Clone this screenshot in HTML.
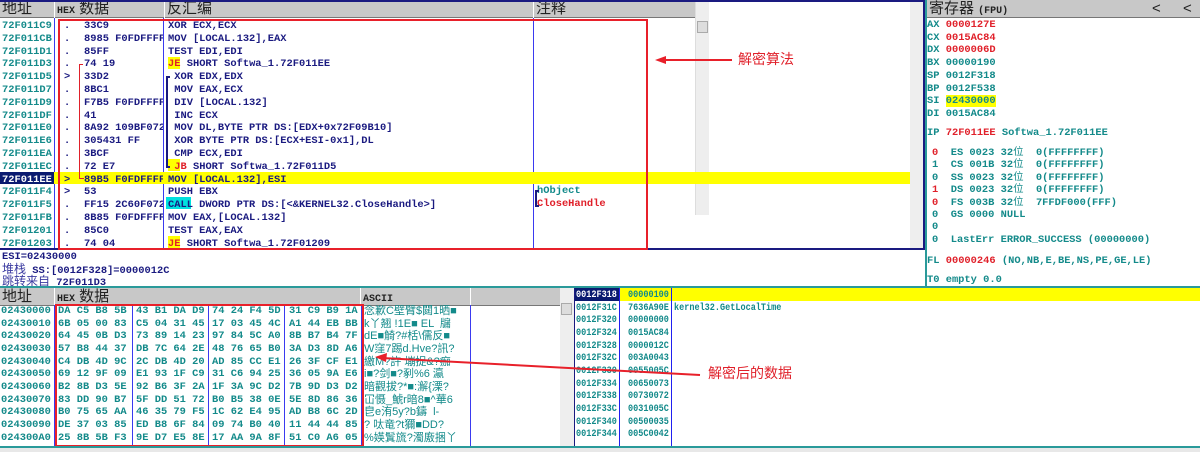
<!DOCTYPE html>
<html><head><meta charset="utf-8">
<style>
*{margin:0;padding:0;box-sizing:border-box}
body{width:1200px;height:452px;overflow:hidden;background:#fff;position:relative;font-family:"Liberation Mono","WenQuanYi Zen Hei",monospace;font-size:10.4px;font-weight:bold;color:#138a8a}
div{position:absolute;white-space:pre}
.h{background:#c8c8c8;border-bottom:1px solid #777;height:18px;font-family:"Liberation Sans","Noto Sans CJK SC",sans-serif;font-weight:normal;font-size:15px;color:#222;line-height:18px;padding-left:2px;overflow:hidden}
.hm{font-family:"Liberation Mono",monospace;font-weight:bold;font-size:10px}
.nv{color:#1a1a80}
.red{color:#e0202a}
.vl{width:1px;background:#3a3af0}
.cj{font-family:"Liberation Sans","Noto Sans CJK SC",sans-serif;font-weight:normal}
.st{transform:scaleX(0.82);transform-origin:0 0}
</style></head><body>

<!-- top header -->
<div class="h" style="left:0;top:0;width:54px">地址</div>
<div class="h" style="left:55px;top:0;width:109px"><span class="hm">HEX</span> 数据</div>
<div class="h" style="left:165px;top:0;width:368px">反汇编</div>
<div class="h" style="left:534px;top:0;width:162px">注释</div>
<div style="left:0;top:0;width:924px;height:2px;background:#1a1a80"></div>
<div class="vl" style="left:54px;top:18px;height:232px"></div>
<div class="vl" style="left:163px;top:18px;height:232px"></div>
<div class="vl" style="left:533px;top:18px;height:232px"></div>
<div style="left:695px;top:2px;width:14px;height:213px;background:#eee;border-left:1px solid #ddd"></div>
<div style="left:697px;top:21px;width:11px;height:12px;background:#ddd;border:1px solid #aaa"></div>
<div style="left:910px;top:2px;width:14px;height:247px;background:#eee"></div>
<div style="left:0;top:248px;width:924px;height:2px;background:#1a1a80"></div>
<div style="left:923px;top:0;width:2px;height:250px;background:#1a1a80"></div>

<!-- disasm rows -->
<div style="left:0;top:172px;width:910px;height:12px;background:#ffff00"></div>
<div style="left:0;top:172px;width:54px;height:12px;background:#0a1a70"></div>
<div style="left:168px;top:159px;width:12px;height:12px;background:#ffff00"></div>
<div style="left:168px;top:57px;width:12px;height:12px;background:#ffff00"></div>
<div style="left:168px;top:236px;width:12px;height:12px;background:#ffff00"></div>
<div style="left:166px;top:197px;width:25px;height:12px;background:#00e0e0"></div>

<div style="left:2px;top:20px;line-height:12.8px">72F011C9
72F011CB
72F011D1
72F011D3
72F011D5
72F011D7
72F011D9
72F011DF
72F011E0
72F011E6
72F011EA
72F011EC
<span style="color:#fff">72F011EE</span>
72F011F4
72F011F5
72F011FB
72F01201
72F01203</div>
<div class="nv" style="left:64px;top:20px;line-height:12.8px">.
.
.
.
&gt;
.
.
.
.
.
.
.
&gt;
&gt;
.
.
.
.</div>
<div class="nv" style="left:84px;top:20px;line-height:12.8px;width:79px;overflow:hidden">33C9
8985 F0FDFFFF
85FF
74 19
33D2
8BC1
F7B5 F0FDFFFF
41
8A92 109BF072
305431 FF
3BCF
72 E7
89B5 F0FDFFFF
53
FF15 2C60F072
8B85 F0FDFFFF
85C0
74 04</div>
<div style="left:79px;top:64px;width:1px;height:114px;background:#e0202a"></div>
<div style="left:79px;top:64px;width:4px;height:1px;background:#e0202a"></div>
<div style="left:79px;top:178px;width:5px;height:1px;background:#e0202a"></div>
<div style="left:166px;top:76px;width:2px;height:91px;background:#1a1a80"></div>
<div style="left:166px;top:76px;width:4px;height:2px;background:#1a1a80"></div>
<div style="left:166px;top:166px;width:4px;height:2px;background:#1a1a80"></div>
<div class="nv" style="left:168px;top:20px;line-height:12.8px">XOR ECX,ECX
MOV [LOCAL.132],EAX
TEST EDI,EDI
<span class="red">JE</span> SHORT Softwa_1.72F011EE
 XOR EDX,EDX
 MOV EAX,ECX
 DIV [LOCAL.132]
 INC ECX
 MOV DL,BYTE PTR DS:[EDX+0x72F09B10]
 XOR BYTE PTR DS:[ECX+ESI-0x1],DL
 CMP ECX,EDI
 <span class="red">JB</span> SHORT Softwa_1.72F011D5
MOV [LOCAL.132],ESI
PUSH EBX
CALL DWORD PTR DS:[&lt;&amp;KERNEL32.CloseHandle&gt;]
MOV EAX,[LOCAL.132]
TEST EAX,EAX
<span class="red">JE</span> SHORT Softwa_1.72F01209</div>
<div style="left:537px;top:185px;line-height:12.8px">hObject
<span class="red">CloseHandle</span></div>
<div style="left:535px;top:190px;width:4px;height:17px;border:2px solid #1a1a80;border-right:none"></div>

<!-- red box 1 -->
<div style="left:58px;top:19px;width:590px;height:231px;border:2px solid #e8202a"></div>
<svg style="position:absolute;left:650px;top:50px" width="90" height="20"><line x1="82" y1="10" x2="12" y2="10" stroke="#e8202a" stroke-width="2"/><polygon points="5,10 16,6 16,14" fill="#e8202a"/></svg>
<div class="cj red" style="left:738px;top:49px;font-size:14px">解密算法</div>

<!-- info lines -->
<div class="nv" style="left:2px;top:251px;line-height:12px">ESI=02430000</div>
<div class="nv" style="left:2px;top:263px;line-height:12px"><span class="cj" style="font-size:12px;color:#3a3aa0">堆栈</span> SS:[0012F328]=0000012C</div>
<div class="nv" style="left:2px;top:275px;line-height:12px"><span class="cj" style="font-size:12px;color:#3a3aa0">跳转来自</span> 72F011D3</div>
<div style="left:0;top:286px;width:1200px;height:2px;background:#2a9a9a"></div>

<!-- registers -->
<div style="left:925px;top:0;width:2px;height:288px;background:#2a9a9a"></div>
<div class="h" style="left:927px;top:0;width:273px">寄存器 <span class="hm">(FPU)</span><span style="position:absolute;left:225px">&lt;</span><span style="position:absolute;left:256px">&lt;</span></div>
<div style="left:927px;top:19px;line-height:12.7px">AX <span class="red">0000127E</span>
CX <span class="red">0015AC84</span>
DX <span class="red">0000006D</span>
BX 00000190
SP 0012F318
BP 0012F538
SI <span style="background:#ffff00">02430000</span>
DI 0015AC84</div>
<div style="left:927px;top:127px">IP <span class="red">72F011EE</span> Softwa_1.72F011EE</div>
<div style="left:932px;top:147px;line-height:12.4px"><span class="red">0</span>  ES 0023 32<span class="cj">位</span>  0(FFFFFFFF)
1  CS 001B 32<span class="cj">位</span>  0(FFFFFFFF)
0  SS 0023 32<span class="cj">位</span>  0(FFFFFFFF)
<span class="red">1</span>  DS 0023 32<span class="cj">位</span>  0(FFFFFFFF)
<span class="red">0</span>  FS 003B 32<span class="cj">位</span>  7FFDF000(FFF)
0  GS 0000 NULL
0
0  LastErr ERROR_SUCCESS (00000000)</div>
<div style="left:927px;top:255px">FL <span class="red">00000246</span> (NO,NB,E,BE,NS,PE,GE,LE)</div>
<div style="left:927px;top:274px">T0 empty 0.0</div>

<!-- dump -->
<div class="h" style="left:0;top:288px;width:54px">地址</div>
<div class="h" style="left:55px;top:288px;width:305px"><span class="hm">HEX</span> 数据</div>
<div class="h" style="left:361px;top:288px;width:109px"><span class="hm">ASCII</span></div>
<div class="h" style="left:471px;top:288px;width:89px"></div>
<div style="left:560px;top:288px;width:14px;height:159px;background:#eee"></div>
<div style="left:561px;top:303px;width:11px;height:12px;background:#ddd;border:1px solid #aaa"></div>
<div class="vl" style="left:54px;top:305px;height:141px"></div>
<div class="vl" style="left:132px;top:305px;height:141px"></div>
<div class="vl" style="left:208px;top:305px;height:141px"></div>
<div class="vl" style="left:284px;top:305px;height:141px"></div>
<div class="vl" style="left:361px;top:305px;height:141px"></div>
<div class="vl" style="left:470px;top:305px;height:141px"></div>
<div style="left:1px;top:305px;line-height:12.67px">02430000
02430010
02430020
02430030
02430040
02430050
02430060
02430070
02430080
02430090
024300A0</div>
<div style="left:58px;top:305px;line-height:12.67px">DA C5 B8 5B
6B 05 00 83
64 45 0B D3
57 B8 44 37
C4 DB 4D 9C
69 12 9F 09
B2 8B D3 5E
83 DD 90 B7
B0 75 65 AA
DE 37 03 85
25 8B 5B F3</div>
<div style="left:136px;top:305px;line-height:12.67px">43 B1 DA D9
C5 04 31 45
73 89 14 23
DB 7C 64 2E
2C DB 4D 20
E1 93 1F C9
92 B6 3F 2A
5F DD 51 72
46 35 79 F5
ED B8 6F 84
9E D7 E5 8E</div>
<div style="left:212px;top:305px;line-height:12.67px">74 24 F4 5D
17 03 45 4C
97 84 5C A0
48 76 65 B0
AD 85 CC E1
31 C6 94 25
1F 3A 9C D2
B0 B5 38 0E
1C 62 E4 95
09 74 B0 40
17 AA 9A 8F</div>
<div style="left:289px;top:305px;line-height:12.67px">31 C9 B9 1A
A1 44 EB BB
8B B7 B4 7F
3A D3 8D A6
26 3F CF E1
36 05 9A E6
7B 9D D3 D2
5E 8D 86 36
AD B8 6C 2D
11 44 44 85
51 C0 A6 05</div>
<div class="cj" style="left:364px;top:305px;line-height:12.67px;font-size:11px;width:106px;overflow:hidden">念歉C壁臂$閮1晒■
k丫翘 !1E■ EL  牖
dE■觭?#栝\儒反■
W窪7踢d.Hve?訊?
繳M?許 塴捉&?痂
i■?剑■?剢%6 瀛
暗觀拔?*■:澥{溧?
冚慑_鯱r暗8■^華6
皀e洧5y?b鑄  l-
? 呔竜?t獮■DD?
%媖鬒旒?濁廒捆丫</div>
<div style="left:55px;top:304px;width:309px;height:143px;border:2px solid #e8202a"></div>

<!-- stack -->
<div style="left:574px;top:288px;width:626px;height:13px;background:#ffff00"></div>
<div style="left:574px;top:288px;width:46px;height:13px;background:#0a1a70"></div>
<div style="left:574px;top:288px;width:1px;height:159px;background:#1a1a80"></div>
<div style="left:619px;top:288px;width:1px;height:159px;background:#2020f0"></div>
<div style="left:671px;top:288px;width:1px;height:159px;background:#2020f0"></div>
<div class="st" style="left:576px;top:289px;line-height:12.67px"><span style="color:#fff">0012F318</span>
0012F31C
0012F320
0012F324
0012F328
0012F32C
0012F330
0012F334
0012F338
0012F33C
0012F340
0012F344</div>
<div class="st" style="left:628px;top:289px;line-height:12.67px">00000100
7636A90E
00000000
0015AC84
0000012C
003A0043
0055005C
00650073
00730072
0031005C
00500035
005C0042</div>
<div class="st" style="left:674px;top:302px">kernel32.GetLocalTime</div>
<svg style="position:absolute;left:370px;top:350px" width="335" height="30"><line x1="330" y1="25" x2="12" y2="8" stroke="#e8202a" stroke-width="2"/><polygon points="5,7 17,3 16,12" fill="#e8202a"/></svg>
<div class="cj red" style="left:708px;top:363px;font-size:14px">解密后的数据</div>

<!-- bottom strip -->
<div style="left:0;top:446px;width:1200px;height:2px;background:#2a9a9a"></div>
<div style="left:0;top:448px;width:1200px;height:4px;background:#e8e8e8"></div>
</body></html>
